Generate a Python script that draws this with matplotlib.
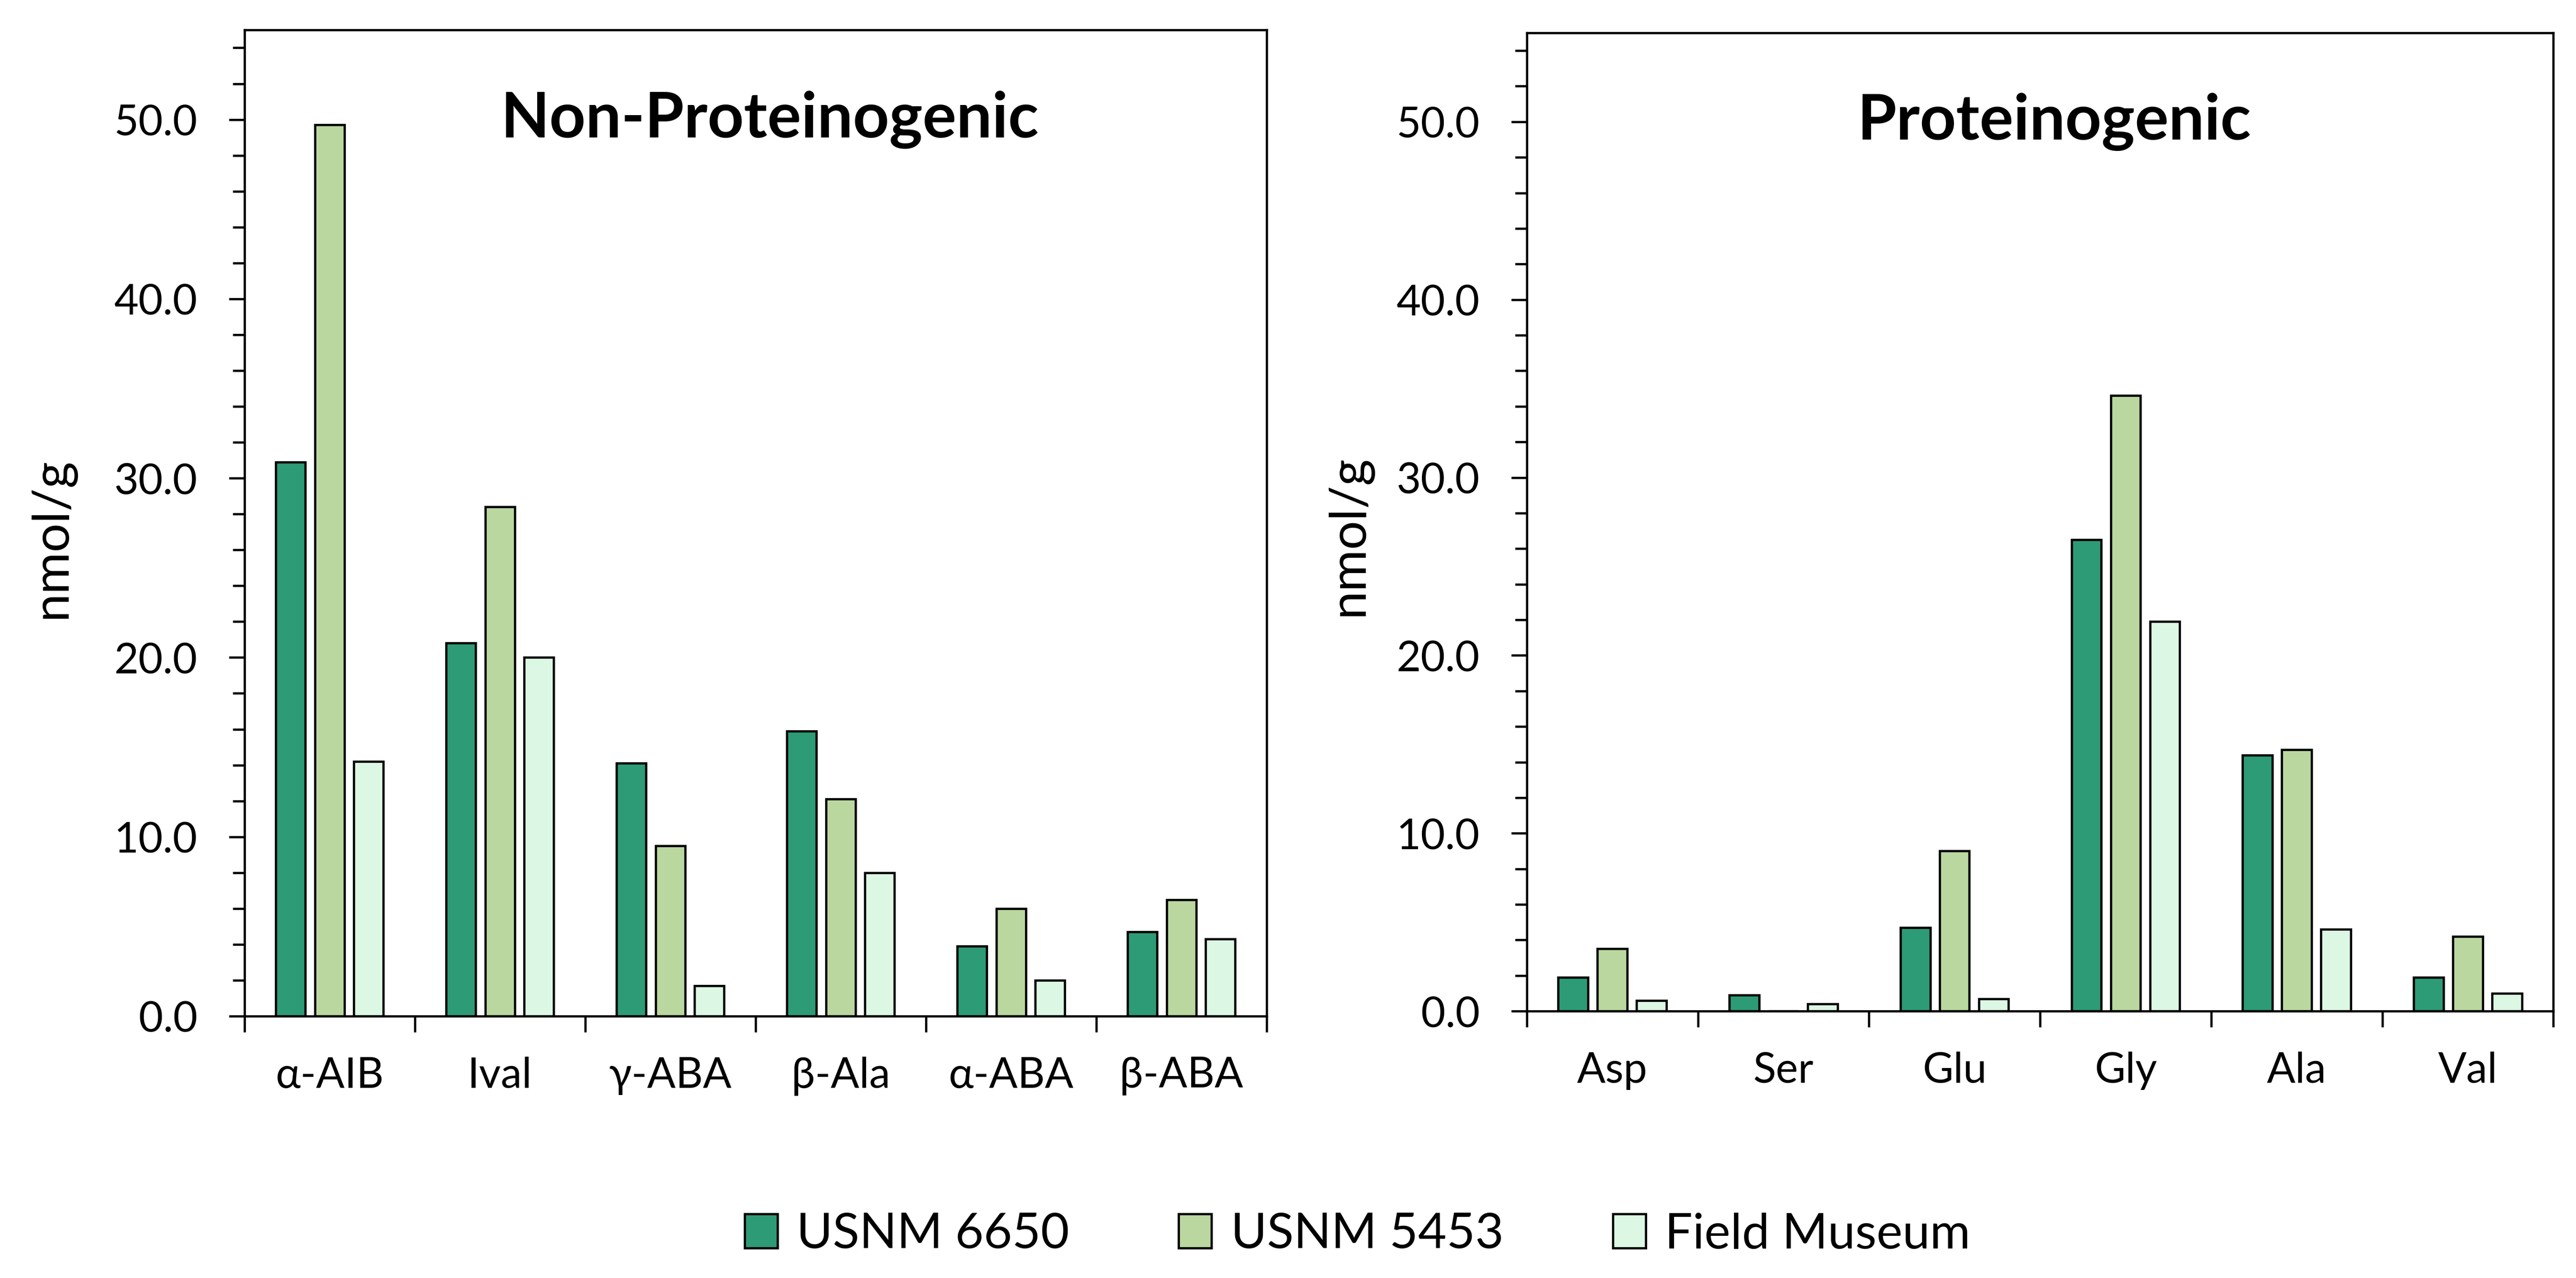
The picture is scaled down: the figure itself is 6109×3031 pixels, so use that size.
import matplotlib
matplotlib.use('Agg')
import matplotlib.pyplot as plt
import numpy as np
from matplotlib.ticker import MultipleLocator, FixedLocator, FormatStrFormatter, NullFormatter
from matplotlib.patches import Patch

plt.rcParams['font.family'] = ['Lato', 'DejaVu Sans']

# series and colours
series = ['USNM 6650', 'USNM 5453', 'Field Museum']
colors = ['#2d9b75', '#bad7a0', '#dcf8e4']

# Non-Proteinogenic panel
non_cats = ['α-AIB', 'Ival', 'γ-ABA', 'β-Ala', 'α-ABA', 'β-ABA']
non_usnm6650 = [30.9, 20.8, 14.1, 15.9, 3.9, 4.7]
non_usnm5453 = [49.7, 28.4, 9.5, 12.1, 6.0, 6.5]
non_field = [14.2, 20.0, 1.7, 8.0, 2.0, 4.3]

# Proteinogenic panel
prot_cats = ['Asp', 'Ser', 'Glu', 'Gly', 'Ala', 'Val']
prot_usnm6650 = [1.9, 0.9, 4.7, 26.5, 14.4, 1.9]
prot_usnm5453 = [3.5, 0.0, 9.0, 34.6, 14.7, 4.2]
prot_field = [0.6, 0.4, 0.7, 21.9, 4.6, 1.0]

LW = 1.3


def draw_panel(ax, cats, vals, title):
    x = np.arange(len(cats))
    for i, v in enumerate(vals):
        ax.bar(x + (i - 1) * 0.229, v, width=0.174, color=colors[i],
               edgecolor='black', linewidth=LW, zorder=2)
    ax.set_xlim(-0.5, len(cats) - 0.5)
    ax.set_ylim(0, 55)

    # category separators as major ticks, labels on minor ticks
    ax.xaxis.set_major_locator(FixedLocator(np.arange(-0.5, len(cats), 1)))
    ax.xaxis.set_major_formatter(NullFormatter())
    ax.xaxis.set_minor_locator(FixedLocator(x))
    ax.set_xticklabels(cats, minor=True)
    ax.tick_params(axis='x', which='major', direction='out', length=9, width=LW)
    ax.tick_params(axis='x', which='minor', length=0, pad=23, labelsize=24)

    ax.yaxis.set_major_locator(MultipleLocator(10))
    ax.yaxis.set_minor_locator(MultipleLocator(2))
    ax.yaxis.set_major_formatter(FormatStrFormatter('%.1f'))
    ax.tick_params(axis='y', which='major', direction='out', length=8.8, width=LW,
                   pad=18, labelsize=24)
    ax.tick_params(axis='y', which='minor', direction='out', length=6.7, width=LW)

    for s in ax.spines.values():
        s.set_linewidth(LW)

    ax.text(0.514, 0.891, title, transform=ax.transAxes, ha='center',
            va='baseline', fontsize=36, fontweight='bold')


fig = plt.figure(figsize=(6109 / 300, 3031 / 300), dpi=300)
ax1 = fig.add_axes([0.0949, 0.2049, 0.4917 - 0.0949, 0.9766 - 0.2049])
ax2 = fig.add_axes([0.5927, 0.2088, 0.9912 - 0.5927, 0.9743 - 0.2088])

draw_panel(ax1, non_cats, [non_usnm6650, non_usnm5453, non_field], 'Non-Proteinogenic')
draw_panel(ax2, prot_cats, [prot_usnm6650, prot_usnm5453, prot_field], 'Proteinogenic')

fig.text(0.0200, 0.579, 'nmol/g', rotation=90, ha='center', va='center', fontsize=29)
fig.text(0.5235, 0.581, 'nmol/g', rotation=90, ha='center', va='center', fontsize=29)

handles = [Patch(facecolor=c, edgecolor='black', linewidth=LW) for c in colors]
fig.legend(handles, series, loc='center', bbox_to_anchor=(0.527, 0.034), ncol=3,
           frameon=False, fontsize=28, handlelength=0.67, handleheight=0.68,
           handletextpad=0.39, columnspacing=2.22)

fig.savefig('out.png', dpi=300)
